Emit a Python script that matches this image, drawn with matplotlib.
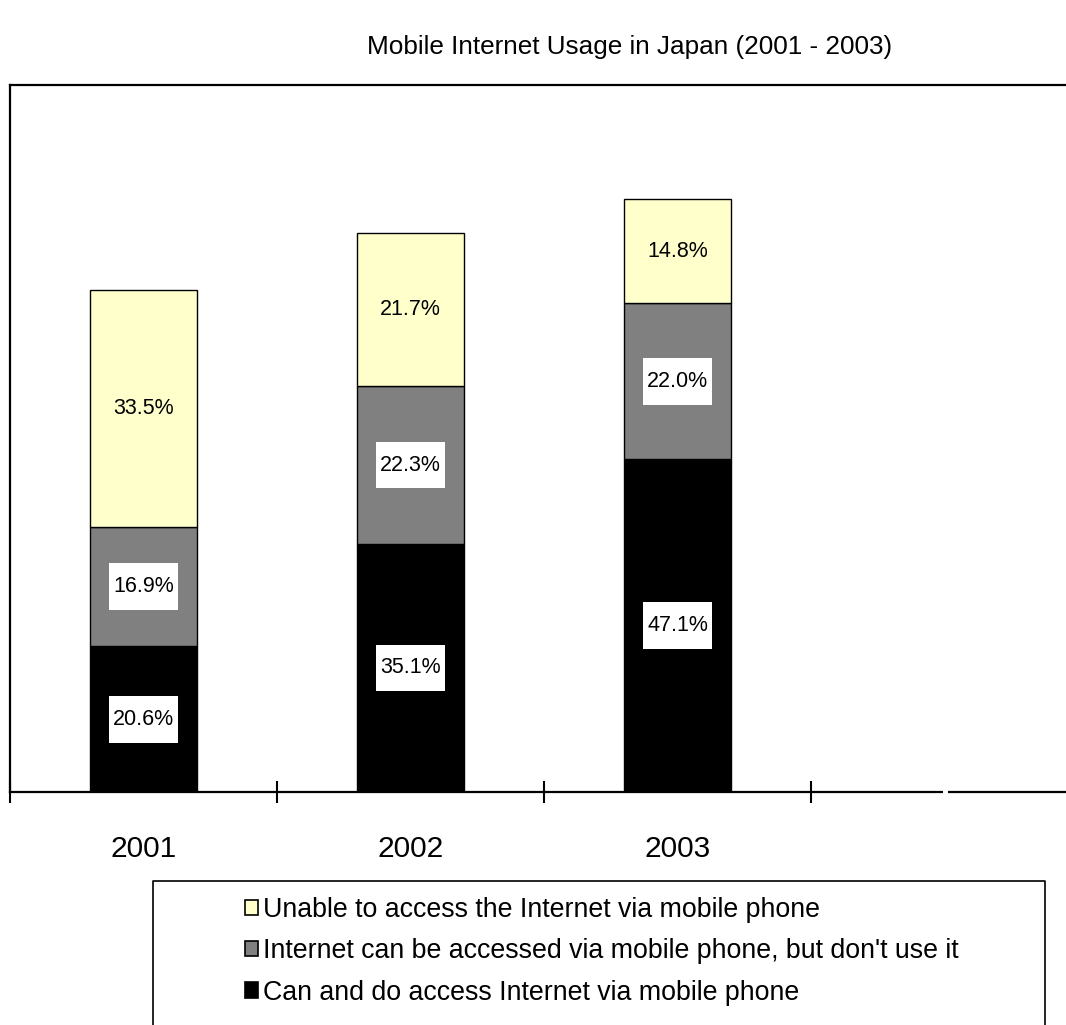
import matplotlib
matplotlib.use("Agg")
import numpy as np
import matplotlib.pyplot as plt
from matplotlib.path import Path
from matplotlib.lines import Line2D

plt.rcParams['font.family'] = ['Liberation Sans', 'DejaVu Sans']

# data
years = ['2001', '2002', '2003']
can_and_do = [20.6, 35.1, 47.1]
can_but_dont = [16.9, 22.3, 22.0]
unable = [33.5, 21.7, 14.8]

series_names = ['Unable to access the Internet via mobile phone',
                "Internet can be accessed via mobile phone, but don't use it",
                'Can and do access Internet via mobile phone']
colors = ['#FFFFCC', '#808080', '#000000']


def label_box(x0, y0, width, height, mutation_size):
    # white box, more padding top/bottom than left/right
    px = 0.2 * mutation_size
    py = 0.6 * mutation_size
    x0, y0 = x0 - px, y0 - py
    x1, y1 = x0 + width + 2 * px, y0 + height + 2 * py
    return Path([(x0, y0), (x1, y0), (x1, y1), (x0, y1), (x0, y0)], closed=True)


fig = plt.figure(figsize=(10.66, 10.25), dpi=100)
W, H = 1066, 1025
ax = fig.add_axes([10 / W, 1 - 792 / H, 1068 / W, (792 - 85) / H])

x = np.arange(len(years))
bottoms = np.zeros(len(years))
stack = [(can_and_do, colors[2], True), (can_but_dont, colors[1], True), (unable, colors[0], False)]
for vals, col, boxed in stack:
    vals = np.array(vals)
    ax.bar(x, vals, width=0.4, bottom=bottoms, color=col, edgecolor='black', linewidth=1.0)
    for xi, b, v in zip(x, bottoms, vals):
        kw = {}
        if boxed:
            kw['bbox'] = dict(boxstyle=label_box, facecolor='white', edgecolor='none')
        ax.text(xi, b + v / 2, f'{v:.1f}%', ha='center', va='center', fontsize=15.5, color='black', **kw)
    bottoms = bottoms + vals

ax.set_xlim(-0.5, 3.5)
ax.set_ylim(0, 100)
ax.set_yticks([])

# major ticks on category boundaries, labels on minor ticks at centers
ax.set_xticks(np.arange(-0.5, 3.0, 1.0))
ax.set_xticklabels([])
ax.tick_params(axis='x', which='major', direction='inout', length=16, width=1.5, color='black')
ax.set_xticks(x, minor=True)
ax.set_xticklabels(years, minor=True, fontsize=21.5)
ax.tick_params(axis='x', which='minor', length=0, pad=31)

for s in ['left', 'top', 'bottom']:
    ax.spines[s].set_linewidth(1.6)
ax.spines['right'].set_visible(False)

# small break in the baseline, as in the source image
fig.add_artist(Line2D([943 / W, 948 / W], [1 - 792 / H] * 2, color='white',
                      linewidth=3, solid_capstyle='butt', transform=fig.transFigure))

fig.text(630 / W, 1 - 47 / H, 'Mobile Internet Usage in Japan (2001 - 2003)',
         ha='center', va='center', fontsize=18.8)

# legend frame, open at the bottom
fx0, fx1, fy = 153 / W, 1045 / W, 1 - 881 / H
fig.add_artist(Line2D([fx0, fx0, fx1, fx1], [-0.01, fy, fy, -0.01], color='black',
                      linewidth=1.2, transform=fig.transFigure))

handles = [plt.Rectangle((0, 0), 1, 1, facecolor=c, edgecolor='black', linewidth=1.2) for c in colors]
fig.legend(handles, series_names, loc='upper left', bbox_to_anchor=(245 / W, 1 - 897 / H),
           frameon=False, fontsize=19.3, handlelength=0.5, handleheight=0.5,
           handletextpad=0.18, labelspacing=0.57, borderpad=0, borderaxespad=0)

fig.savefig('out.png', dpi=100)
